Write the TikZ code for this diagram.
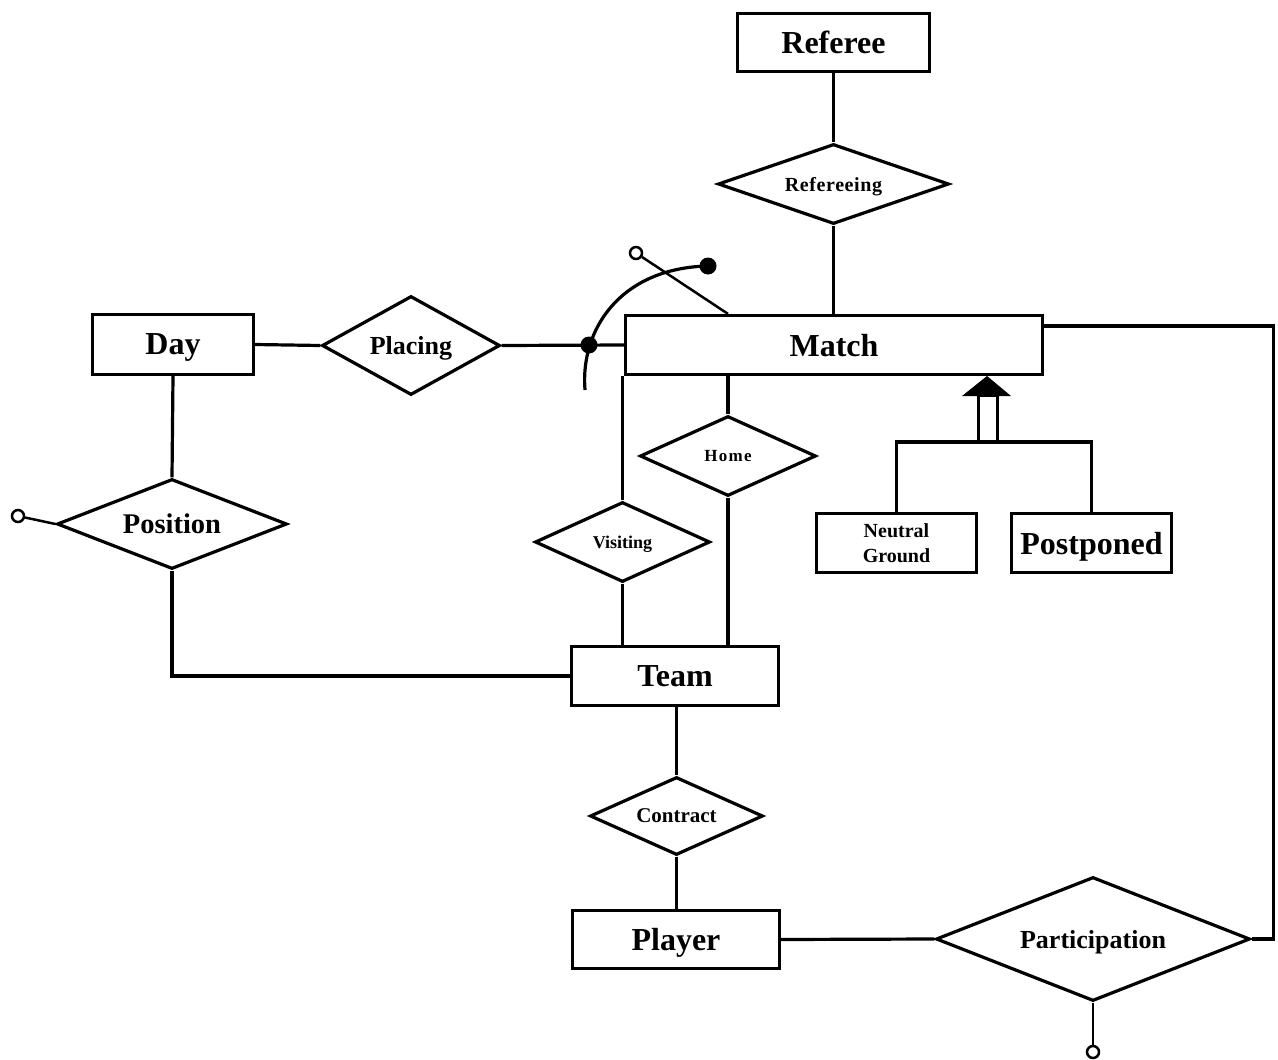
\documentclass[tikz,border=0pt]{standalone}
\usepackage{fontspec}
\setmainfont{Liberation Serif}
\usetikzlibrary{shapes.geometric}
\begin{document}
\begin{tikzpicture}[x=1pt,y=-1pt,line width=3.2pt,line join=miter,
  entity/.style={draw,rectangle,inner sep=0pt,text depth=0pt,font=\bfseries\fontsize{32}{36}\selectfont},
  relation/.style={draw,diamond,inner sep=0pt,text depth=0pt,font=\bfseries},
  opendot/.style={draw,circle,fill=white,line width=2.5pt,inner sep=0pt,minimum size=12pt},
  soliddot/.style={circle,fill=black,inner sep=0pt,minimum size=17pt}]
\useasboundingbox (0,0) rectangle (1278,1060);

% entities
\node[entity,minimum width=192pt,minimum height=58pt] (referee) at (833.5,42.5) {Referee};
\node[entity,minimum width=417pt,minimum height=59pt] (match) at (834,345) {Match};
\node[entity,minimum width=161pt,minimum height=60pt] (day) at (173,344.5) {Day};
\node[entity,minimum width=207pt,minimum height=59pt] (team) at (675,676) {Team};
\node[entity,minimum width=207pt,minimum height=58pt] (player) at (676,939.5) {Player};
\node[entity,minimum width=160pt,minimum height=59pt,align=center,text depth=,
      font=\bfseries\fontsize{20}{25}\selectfont] (neutral) at (896.5,543) {Neutral\\Ground};
\node[entity,minimum width=160pt,minimum height=59pt] (postponed) at (1091.5,543) {Postponed};

% relationships
\node[relation,minimum width=231pt,minimum height=80pt,aspect=2.8,
      font=\bfseries\fontsize{20}{24}\selectfont\addfontfeature{LetterSpace=3}] (refereeing) at (833.5,184) {Refereeing};
\node[relation,minimum width=178pt,minimum height=99pt,aspect=1.8,
      font=\bfseries\fontsize{26}{30}\selectfont] (placing) at (411,345.5) {Placing};
\node[relation,minimum width=176pt,minimum height=80pt,aspect=2.1,
      font=\bfseries\fontsize{17}{20}\selectfont\addfontfeature{LetterSpace=8}] (home) at (728,456) {Home};
\node[relation,minimum width=175pt,minimum height=80pt,aspect=2.1,
      font=\bfseries\fontsize{18}{20}\selectfont] (visiting) at (622.5,542) {Visiting};
\node[relation,minimum width=230pt,minimum height=90pt,aspect=2.5,
      font=\bfseries\fontsize{28.5}{32}\selectfont] (position) at (172,524) {Position};
\node[relation,minimum width=173pt,minimum height=78pt,aspect=2.2,
      font=\bfseries\fontsize{21}{24}\selectfont] (contract) at (676.5,816) {Contract};
\node[relation,minimum width=314pt,minimum height=124pt,aspect=2.5,
      font=\bfseries\fontsize{26}{30}\selectfont] (participation) at (1093,939) {Participation};

% end markers
\node[opendot] (posmark) at (18,516) {};
\node[opendot] (partmark) at (1093,1052) {};
\node[opendot] (placemark) at (636,253) {};
\node[soliddot] (pivot) at (589,345) {};
\node[soliddot] (arcend) at (708,266) {};
\coordinate (arcstart) at (585,390);

% connectors
\draw (referee.south) -- (refereeing.north);
\draw (refereeing.south) -- (refereeing.south |- match.north);
\draw (day.east) -- (placing.west);
\draw (placing.east) -- (match.west);
\draw (arcstart) .. controls (580,330) and (620,268) .. (arcend.center);
\draw[line width=2.5pt] (placemark) -- (home.north |- match.north);
\draw (visiting.north |- match.south) -- (visiting.north);
\draw (home.north |- match.south) -- (home.north);
\draw (visiting.south) -- (visiting.south |- team.north);
\draw (home.south) -- (home.south |- team.north);
\draw (day.south) -- (position.north);
\draw[line width=2.5pt] (position.west) -- (posmark);
\draw (position.south) |- (team.west);
\draw (contract.north |- team.south) -- (contract.north);
\draw (contract.south) -- (contract.south |- player.north);
\draw (player.east) -- (participation.west);
\draw[line width=2.5pt] (participation.south) -- (partmark);
\draw ([yshift=19pt]match.east) -- ++(229,0) |- (participation.east);

% generalisation of Match
\coordinate (isa) at (988,442);
\draw (neutral.north) |- (isa) -| (postponed.north);
\draw[fill=white] (978.5,442) rectangle (997.5,395);
\fill (962,396) -- (1011,396) -- (987,376) -- cycle;
\end{tikzpicture}
\end{document}
